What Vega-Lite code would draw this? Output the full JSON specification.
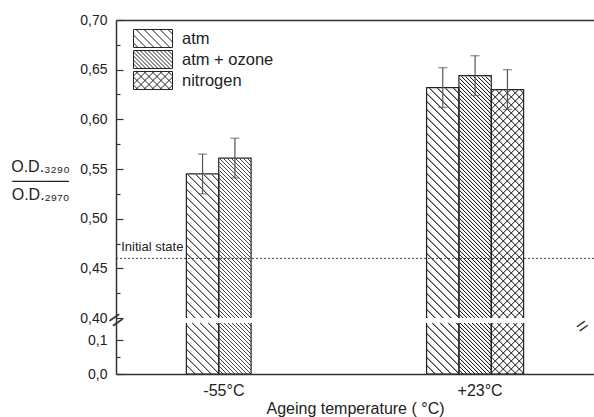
{
"$schema": "https://vega.github.io/schema/vega-lite/v6.json",
"width": 478, "height": 354,
"autosize": {"type": "none"},
"padding": {"left": 116, "top": 20, "right": 0, "bottom": 43},
"config": {"font": "Liberation Sans", "view": {"stroke": null}},
"params": [{"name": "hs", "value": [
{"offset":0,"color":"#111"},{"offset":0.003,"color":"#0000"},{"offset":0.01,"color":"#0000"},
{"offset":0.01,"color":"#111"},{"offset":0.013,"color":"#0000"},{"offset":0.02,"color":"#0000"},
{"offset":0.02,"color":"#111"},{"offset":0.023,"color":"#0000"},{"offset":0.03,"color":"#0000"},
{"offset":0.03,"color":"#111"},{"offset":0.033,"color":"#0000"},{"offset":0.04,"color":"#0000"},
{"offset":0.04,"color":"#111"},{"offset":0.043,"color":"#0000"},{"offset":0.05,"color":"#0000"},
{"offset":0.05,"color":"#111"},{"offset":0.053,"color":"#0000"},{"offset":0.06,"color":"#0000"},
{"offset":0.06,"color":"#111"},{"offset":0.063,"color":"#0000"},{"offset":0.07,"color":"#0000"},
{"offset":0.07,"color":"#111"},{"offset":0.073,"color":"#0000"},{"offset":0.08,"color":"#0000"},
{"offset":0.08,"color":"#111"},{"offset":0.083,"color":"#0000"},{"offset":0.09,"color":"#0000"},
{"offset":0.09,"color":"#111"},{"offset":0.093,"color":"#0000"},{"offset":0.1,"color":"#0000"},
{"offset":0.1,"color":"#111"},{"offset":0.103,"color":"#0000"},{"offset":0.11,"color":"#0000"},
{"offset":0.11,"color":"#111"},{"offset":0.113,"color":"#0000"},{"offset":0.12,"color":"#0000"},
{"offset":0.12,"color":"#111"},{"offset":0.123,"color":"#0000"},{"offset":0.13,"color":"#0000"},
{"offset":0.13,"color":"#111"},{"offset":0.133,"color":"#0000"},{"offset":0.14,"color":"#0000"},
{"offset":0.14,"color":"#111"},{"offset":0.143,"color":"#0000"},{"offset":0.15,"color":"#0000"},
{"offset":0.15,"color":"#111"},{"offset":0.153,"color":"#0000"},{"offset":0.16,"color":"#0000"},
{"offset":0.16,"color":"#111"},{"offset":0.163,"color":"#0000"},{"offset":0.17,"color":"#0000"},
{"offset":0.17,"color":"#111"},{"offset":0.173,"color":"#0000"},{"offset":0.18,"color":"#0000"},
{"offset":0.18,"color":"#111"},{"offset":0.183,"color":"#0000"},{"offset":0.19,"color":"#0000"},
{"offset":0.19,"color":"#111"},{"offset":0.193,"color":"#0000"},{"offset":0.2,"color":"#0000"},
{"offset":0.2,"color":"#111"},{"offset":0.203,"color":"#0000"},{"offset":0.21,"color":"#0000"},
{"offset":0.21,"color":"#111"},{"offset":0.213,"color":"#0000"},{"offset":0.22,"color":"#0000"},
{"offset":0.22,"color":"#111"},{"offset":0.223,"color":"#0000"},{"offset":0.23,"color":"#0000"},
{"offset":0.23,"color":"#111"},{"offset":0.233,"color":"#0000"},{"offset":0.24,"color":"#0000"},
{"offset":0.24,"color":"#111"},{"offset":0.243,"color":"#0000"},{"offset":0.25,"color":"#0000"},
{"offset":0.25,"color":"#111"},{"offset":0.253,"color":"#0000"},{"offset":0.26,"color":"#0000"},
{"offset":0.26,"color":"#111"},{"offset":0.263,"color":"#0000"},{"offset":0.27,"color":"#0000"},
{"offset":0.27,"color":"#111"},{"offset":0.273,"color":"#0000"},{"offset":0.28,"color":"#0000"},
{"offset":0.28,"color":"#111"},{"offset":0.283,"color":"#0000"},{"offset":0.29,"color":"#0000"},
{"offset":0.29,"color":"#111"},{"offset":0.293,"color":"#0000"},{"offset":0.3,"color":"#0000"},
{"offset":0.3,"color":"#111"},{"offset":0.303,"color":"#0000"},{"offset":0.31,"color":"#0000"},
{"offset":0.31,"color":"#111"},{"offset":0.313,"color":"#0000"},{"offset":0.32,"color":"#0000"},
{"offset":0.32,"color":"#111"},{"offset":0.323,"color":"#0000"},{"offset":0.33,"color":"#0000"},
{"offset":0.33,"color":"#111"},{"offset":0.333,"color":"#0000"},{"offset":0.34,"color":"#0000"},
{"offset":0.34,"color":"#111"},{"offset":0.343,"color":"#0000"},{"offset":0.35,"color":"#0000"},
{"offset":0.35,"color":"#111"},{"offset":0.353,"color":"#0000"},{"offset":0.36,"color":"#0000"},
{"offset":0.36,"color":"#111"},{"offset":0.363,"color":"#0000"},{"offset":0.37,"color":"#0000"},
{"offset":0.37,"color":"#111"},{"offset":0.373,"color":"#0000"},{"offset":0.38,"color":"#0000"},
{"offset":0.38,"color":"#111"},{"offset":0.383,"color":"#0000"},{"offset":0.39,"color":"#0000"},
{"offset":0.39,"color":"#111"},{"offset":0.393,"color":"#0000"},{"offset":0.4,"color":"#0000"},
{"offset":0.4,"color":"#111"},{"offset":0.403,"color":"#0000"},{"offset":0.41,"color":"#0000"},
{"offset":0.41,"color":"#111"},{"offset":0.413,"color":"#0000"},{"offset":0.42,"color":"#0000"},
{"offset":0.42,"color":"#111"},{"offset":0.423,"color":"#0000"},{"offset":0.43,"color":"#0000"},
{"offset":0.43,"color":"#111"},{"offset":0.433,"color":"#0000"},{"offset":0.44,"color":"#0000"},
{"offset":0.44,"color":"#111"},{"offset":0.443,"color":"#0000"},{"offset":0.45,"color":"#0000"},
{"offset":0.45,"color":"#111"},{"offset":0.453,"color":"#0000"},{"offset":0.46,"color":"#0000"},
{"offset":0.46,"color":"#111"},{"offset":0.463,"color":"#0000"},{"offset":0.47,"color":"#0000"},
{"offset":0.47,"color":"#111"},{"offset":0.473,"color":"#0000"},{"offset":0.48,"color":"#0000"},
{"offset":0.48,"color":"#111"},{"offset":0.483,"color":"#0000"},{"offset":0.49,"color":"#0000"},
{"offset":0.49,"color":"#111"},{"offset":0.493,"color":"#0000"},{"offset":0.5,"color":"#0000"},
{"offset":0.5,"color":"#111"},{"offset":0.503,"color":"#0000"},{"offset":0.51,"color":"#0000"},
{"offset":0.51,"color":"#111"},{"offset":0.513,"color":"#0000"},{"offset":0.52,"color":"#0000"},
{"offset":0.52,"color":"#111"},{"offset":0.523,"color":"#0000"},{"offset":0.53,"color":"#0000"},
{"offset":0.53,"color":"#111"},{"offset":0.533,"color":"#0000"},{"offset":0.54,"color":"#0000"},
{"offset":0.54,"color":"#111"},{"offset":0.543,"color":"#0000"},{"offset":0.55,"color":"#0000"},
{"offset":0.55,"color":"#111"},{"offset":0.553,"color":"#0000"},{"offset":0.56,"color":"#0000"},
{"offset":0.56,"color":"#111"},{"offset":0.563,"color":"#0000"},{"offset":0.57,"color":"#0000"},
{"offset":0.57,"color":"#111"},{"offset":0.573,"color":"#0000"},{"offset":0.58,"color":"#0000"},
{"offset":0.58,"color":"#111"},{"offset":0.583,"color":"#0000"},{"offset":0.59,"color":"#0000"},
{"offset":0.59,"color":"#111"},{"offset":0.593,"color":"#0000"},{"offset":0.6,"color":"#0000"},
{"offset":0.6,"color":"#111"},{"offset":0.603,"color":"#0000"},{"offset":0.61,"color":"#0000"},
{"offset":0.61,"color":"#111"},{"offset":0.613,"color":"#0000"},{"offset":0.62,"color":"#0000"},
{"offset":0.62,"color":"#111"},{"offset":0.623,"color":"#0000"},{"offset":0.63,"color":"#0000"},
{"offset":0.63,"color":"#111"},{"offset":0.633,"color":"#0000"},{"offset":0.64,"color":"#0000"},
{"offset":0.64,"color":"#111"},{"offset":0.643,"color":"#0000"},{"offset":0.65,"color":"#0000"},
{"offset":0.65,"color":"#111"},{"offset":0.653,"color":"#0000"},{"offset":0.66,"color":"#0000"},
{"offset":0.66,"color":"#111"},{"offset":0.663,"color":"#0000"},{"offset":0.67,"color":"#0000"},
{"offset":0.67,"color":"#111"},{"offset":0.673,"color":"#0000"},{"offset":0.68,"color":"#0000"},
{"offset":0.68,"color":"#111"},{"offset":0.683,"color":"#0000"},{"offset":0.69,"color":"#0000"},
{"offset":0.69,"color":"#111"},{"offset":0.693,"color":"#0000"},{"offset":0.7,"color":"#0000"},
{"offset":0.7,"color":"#111"},{"offset":0.703,"color":"#0000"},{"offset":0.71,"color":"#0000"},
{"offset":0.71,"color":"#111"},{"offset":0.713,"color":"#0000"},{"offset":0.72,"color":"#0000"},
{"offset":0.72,"color":"#111"},{"offset":0.723,"color":"#0000"},{"offset":0.73,"color":"#0000"},
{"offset":0.73,"color":"#111"},{"offset":0.733,"color":"#0000"},{"offset":0.74,"color":"#0000"},
{"offset":0.74,"color":"#111"},{"offset":0.743,"color":"#0000"},{"offset":0.75,"color":"#0000"},
{"offset":0.75,"color":"#111"},{"offset":0.753,"color":"#0000"},{"offset":0.76,"color":"#0000"},
{"offset":0.76,"color":"#111"},{"offset":0.763,"color":"#0000"},{"offset":0.77,"color":"#0000"},
{"offset":0.77,"color":"#111"},{"offset":0.773,"color":"#0000"},{"offset":0.78,"color":"#0000"},
{"offset":0.78,"color":"#111"},{"offset":0.783,"color":"#0000"},{"offset":0.79,"color":"#0000"},
{"offset":0.79,"color":"#111"},{"offset":0.793,"color":"#0000"},{"offset":0.8,"color":"#0000"},
{"offset":0.8,"color":"#111"},{"offset":0.803,"color":"#0000"},{"offset":0.81,"color":"#0000"},
{"offset":0.81,"color":"#111"},{"offset":0.813,"color":"#0000"},{"offset":0.82,"color":"#0000"},
{"offset":0.82,"color":"#111"},{"offset":0.823,"color":"#0000"},{"offset":0.83,"color":"#0000"},
{"offset":0.83,"color":"#111"},{"offset":0.833,"color":"#0000"},{"offset":0.84,"color":"#0000"},
{"offset":0.84,"color":"#111"},{"offset":0.843,"color":"#0000"},{"offset":0.85,"color":"#0000"},
{"offset":0.85,"color":"#111"},{"offset":0.853,"color":"#0000"},{"offset":0.86,"color":"#0000"},
{"offset":0.86,"color":"#111"},{"offset":0.863,"color":"#0000"},{"offset":0.87,"color":"#0000"},
{"offset":0.87,"color":"#111"},{"offset":0.873,"color":"#0000"},{"offset":0.88,"color":"#0000"},
{"offset":0.88,"color":"#111"},{"offset":0.883,"color":"#0000"},{"offset":0.89,"color":"#0000"},
{"offset":0.89,"color":"#111"},{"offset":0.893,"color":"#0000"},{"offset":0.9,"color":"#0000"},
{"offset":0.9,"color":"#111"},{"offset":0.903,"color":"#0000"},{"offset":0.91,"color":"#0000"},
{"offset":0.91,"color":"#111"},{"offset":0.913,"color":"#0000"},{"offset":0.92,"color":"#0000"},
{"offset":0.92,"color":"#111"},{"offset":0.923,"color":"#0000"},{"offset":0.93,"color":"#0000"},
{"offset":0.93,"color":"#111"},{"offset":0.933,"color":"#0000"},{"offset":0.94,"color":"#0000"},
{"offset":0.94,"color":"#111"},{"offset":0.943,"color":"#0000"},{"offset":0.95,"color":"#0000"},
{"offset":0.95,"color":"#111"},{"offset":0.953,"color":"#0000"},{"offset":0.96,"color":"#0000"},
{"offset":0.96,"color":"#111"},{"offset":0.963,"color":"#0000"},{"offset":0.97,"color":"#0000"},
{"offset":0.97,"color":"#111"},{"offset":0.973,"color":"#0000"},{"offset":0.98,"color":"#0000"},
{"offset":0.98,"color":"#111"},{"offset":0.983,"color":"#0000"},{"offset":0.99,"color":"#0000"},
{"offset":0.99,"color":"#111"},{"offset":0.993,"color":"#0000"},{"offset":1,"color":"#0000"}
]}],
"data": {"values": [
{"temp": "-55°C", "series": "atm", "value": 0.545, "lo": 0.525, "hi": 0.565},
{"temp": "-55°C", "series": "atm + ozone", "value": 0.561, "lo": 0.541, "hi": 0.581},
{"temp": "+23°C", "series": "atm", "value": 0.632, "lo": 0.612, "hi": 0.652},
{"temp": "+23°C", "series": "atm + ozone", "value": 0.644, "lo": 0.624, "hi": 0.664},
{"temp": "+23°C", "series": "nitrogen", "value": 0.63, "lo": 0.61, "hi": 0.65}
]},
"resolve": {"axis": {"x": "independent", "y": "independent"}},
"layer": [
{
"mark": {"type": "bar", "strokeWidth": 0, "fill": {"expr": "{gradient:'linear',x1:0,y1:1,x2:datum.series=='atm + ozone'?0.10241:0.20481,y2:datum.series=='atm + ozone'?-0.1206:-1.24121,stops:hs}"}},
"encoding": {
"x": {"field": "temp", "type": "nominal", "scale": {"domain": ["-55°C", "+23°C"], "paddingInner": 0.596, "paddingOuter": 0.293},
 "axis": {"orient": "bottom", "title": "Ageing temperature ( °C)", "titleFontSize": 16, "titleFontWeight": "normal", "titleColor": "#222", "titlePadding": 2, "labelFontSize": 16, "labelColor": "#222", "labelPadding": 8, "labelAngle": 0, "ticks": false, "domainColor": "#333", "domainWidth": 1.5, "labelOffset": {"condition": {"test": "datum.value == '-55°C'", "value": -11}, "value": 5}, "zindex": 1}},
"xOffset": {"field": "series", "type": "nominal", "scale": {"domain": ["atm", "atm + ozone", "nitrogen"], "paddingInner": 0, "paddingOuter": 0}},
"y": {"datum": 0.7, "type": "quantitative", "scale": {"domain": [0, 0.15, 0.4, 0.7], "range": [354, 303, 298, 0], "nice": false, "zero": false},
 "axis": {"orient": "left", "values": [0, 0.1, 0.4, 0.45, 0.5, 0.55, 0.6, 0.65, 0.7], "labelExpr": "replace(format(datum.value, datum.value < 0.2 ? '.1f' : '.2f'), '.', ',')",
  "title": ["O.D.₃₂₉₀", "─────", "O.D.₂₉₇₀"], "titleAngle": 0, "titleAlign": "center", "titleBaseline": "alphabetic", "titleX": -76, "titleY": 151, "titleLineHeight": 14, "titleFontSize": 16, "titleFontWeight": "normal", "titleColor": "#222",
  "labelFontSize": 14, "labelColor": "#222", "tickSize": -7, "labelPadding": 16, "tickColor": "#333", "tickWidth": 1.2, "domainColor": "#333", "domainWidth": 1.5, "grid": false, "zindex": 1}},
"y2": {"datum": 0}
}
},
{
"transform": [{"filter": "datum.series == 'nitrogen'"}],
"mark": {"type": "bar", "strokeWidth": 0, "fill": {"expr": "{gradient:'linear',x1:0,y1:0,x2:0.20481,y2:2.24121,stops:hs}"}},
"encoding": {
"x": {"field": "temp", "type": "nominal", "scale": {"domain": ["-55°C", "+23°C"], "paddingInner": 0.596, "paddingOuter": 0.293},
 "axis": {"orient": "top", "labels": false, "ticks": false, "title": null, "domainColor": "#333", "domainWidth": 1.5, "grid": false, "zindex": 1}},
"xOffset": {"field": "series", "type": "nominal", "scale": {"domain": ["atm", "atm + ozone", "nitrogen"], "paddingInner": 0, "paddingOuter": 0}},
"y": {"datum": 0.7, "type": "quantitative", "scale": {"domain": [0, 0.15, 0.4, 0.7], "range": [354, 303, 298, 0], "nice": false, "zero": false}, "axis": null},
"y2": {"datum": 0}
}
},
{
"mark": {"type": "bar", "fill": "white", "stroke": "white", "strokeWidth": 1.5},
"encoding": {
"x": {"field": "temp", "type": "nominal", "scale": {"domain": ["-55°C", "+23°C"], "paddingInner": 0.596, "paddingOuter": 0.293}, "axis": null},
"xOffset": {"field": "series", "type": "nominal", "scale": {"domain": ["atm", "atm + ozone", "nitrogen"], "paddingInner": 0, "paddingOuter": 0}},
"y": {"field": "value", "type": "quantitative", "scale": {"domain": [0, 0.15, 0.4, 0.7], "range": [354, 303, 298, 0], "nice": false, "zero": false},
 "axis": {"orient": "left", "values": [0.05, 0.425, 0.475, 0.525, 0.575, 0.625, 0.675], "labels": false, "domain": false, "title": null, "tickSize": -4, "tickColor": "#333", "tickWidth": 1.2, "grid": false, "zindex": 1}},
"y2": {"datum": 0.7}
}
},
{
"mark": {"type": "bar", "fill": "transparent", "stroke": "#222", "strokeWidth": 1.2},
"encoding": {
"x": {"field": "temp", "type": "nominal", "scale": {"domain": ["-55°C", "+23°C"], "paddingInner": 0.596, "paddingOuter": 0.293}, "axis": null},
"xOffset": {"field": "series", "type": "nominal", "scale": {"domain": ["atm", "atm + ozone", "nitrogen"], "paddingInner": 0, "paddingOuter": 0}},
"y": {"field": "value", "type": "quantitative", "scale": {"domain": [0, 0.15, 0.4, 0.7], "range": [354, 303, 298, 0], "nice": false, "zero": false},
 "axis": {"orient": "left", "values": [0.285], "labelExpr": "'='", "ticks": false, "domain": false, "title": null, "labelAlign": "center", "labelBaseline": "middle", "labelAngle": -35, "labelPadding": 0, "labelFontSize": 24, "labelColor": "#333", "grid": false, "zindex": 1}},
"y2": {"datum": 0}
}
},
{
"mark": {"type": "point", "opacity": 0, "color": "#222", "strokeWidth": 1},
"encoding": {
"x": {"field": "temp", "type": "nominal", "scale": {"domain": ["-55°C", "+23°C"], "paddingInner": 0.596, "paddingOuter": 0.293}, "axis": null},
"xOffset": {"field": "series", "type": "nominal", "scale": {"domain": ["atm", "atm + ozone", "nitrogen"], "paddingInner": 0, "paddingOuter": 0}},
"y": {"field": "value", "type": "quantitative", "scale": {"domain": [0, 0.15, 0.4, 0.7], "range": [354, 303, 298, 0], "nice": false, "zero": false}, "axis": null},
"shape": {"field": "series", "type": "nominal",
 "scale": {"domain": ["atm", "atm + ozone", "nitrogen"], "range": [
  "M-1,-0.46H1V0.46H-1ZM-1,0.23L-0.77,0.46M-1,-0.18L-0.36,0.46M-0.87,-0.46L0.05,0.46M-0.46,-0.46L0.46,0.46M-0.05,-0.46L0.87,0.46M0.36,-0.46L1,0.18M0.77,-0.46L1,-0.23",
  "M-1,-0.46H1V0.46H-1ZM-1,0.23L-0.77,0.46M-1,0.025L-0.565,0.46M-1,-0.18L-0.36,0.46M-1,-0.385L-0.155,0.46M-0.87,-0.46L0.05,0.46M-0.665,-0.46L0.255,0.46M-0.46,-0.46L0.46,0.46M-0.255,-0.46L0.665,0.46M-0.05,-0.46L0.87,0.46M0.155,-0.46L1,0.385M0.36,-0.46L1,0.18M0.565,-0.46L1,-0.025M0.77,-0.46L1,-0.23",
  "M-1,-0.46H1V0.46H-1ZM-1,0.23L-0.77,0.46M-1,-0.18L-0.36,0.46M-0.87,-0.46L0.05,0.46M-0.46,-0.46L0.46,0.46M-0.05,-0.46L0.87,0.46M0.36,-0.46L1,0.18M0.77,-0.46L1,-0.23M1,0.23L0.77,0.46M1,-0.18L0.36,0.46M0.87,-0.46L-0.05,0.46M0.46,-0.46L-0.46,0.46M0.05,-0.46L-0.87,0.46M-0.36,-0.46L-1,0.18M-0.77,-0.46L-1,-0.23"
 ]},
 "legend": {"orient": "none", "legendX": 17, "legendY": 8, "title": null, "padding": 0, "rowPadding": 0, "clipHeight": 21, "symbolSize": 1521, "symbolOpacity": 1, "symbolStrokeColor": "#222", "symbolFillColor": "transparent", "symbolStrokeWidth": 1, "labelFontSize": 16.5, "labelColor": "#222", "labelOffset": 9}}
}
},
{
"data": {"values": [{}]},
"mark": {"type": "rect", "fill": "white"},
"encoding": {
"y": {"datum": 0.4, "type": "quantitative", "scale": {"domain": [0, 0.15, 0.4, 0.7], "range": [354, 303, 298, 0], "nice": false, "zero": false},
 "axis": {"orient": "right", "values": [0.141], "labelExpr": "'='", "ticks": false, "domain": false, "title": null, "labelAlign": "center", "labelBaseline": "middle", "labelAngle": -35, "labelPadding": -12, "labelFontSize": 20, "labelColor": "#333", "grid": false, "zindex": 1}},
"y2": {"datum": 0.15}
}
},
{
"data": {"values": [{}]},
"mark": {"type": "rule", "strokeDash": [2, 2], "color": "#444", "strokeWidth": 1},
"encoding": {
"y": {"datum": 0.46, "type": "quantitative", "scale": {"domain": [0, 0.15, 0.4, 0.7], "range": [354, 303, 298, 0], "nice": false, "zero": false}, "axis": null}
}
},
{
"data": {"values": [{}]},
"mark": {"type": "text", "text": "Initial state", "align": "right", "baseline": "alphabetic", "dx": -3, "dy": -7, "fontSize": 13, "color": "#222"},
"encoding": {
"x": {"datum": "-55°C", "type": "nominal", "bandPosition": 0, "scale": {"domain": ["-55°C", "+23°C"], "paddingInner": 0.596, "paddingOuter": 0.293}, "axis": null},
"y": {"datum": 0.46, "type": "quantitative", "scale": {"domain": [0, 0.15, 0.4, 0.7], "range": [354, 303, 298, 0], "nice": false, "zero": false}, "axis": null}
}
},
{
"mark": {"type": "rule", "color": "#555", "strokeWidth": 1.2},
"encoding": {
"x": {"field": "temp", "type": "nominal", "scale": {"domain": ["-55°C", "+23°C"], "paddingInner": 0.596, "paddingOuter": 0.293}, "axis": null},
"xOffset": {"field": "series", "type": "nominal", "scale": {"domain": ["atm", "atm + ozone", "nitrogen"], "paddingInner": 0, "paddingOuter": 0}},
"y": {"field": "lo", "type": "quantitative", "scale": {"domain": [0, 0.15, 0.4, 0.7], "range": [354, 303, 298, 0], "nice": false, "zero": false}, "axis": null},
"y2": {"field": "hi"}
}
},
{
"mark": {"type": "tick", "color": "#555", "thickness": 1.2},
"encoding": {
"x": {"field": "temp", "type": "nominal", "scale": {"domain": ["-55°C", "+23°C"], "paddingInner": 0.596, "paddingOuter": 0.293}, "axis": null},
"xOffset": {"field": "series", "type": "nominal", "scale": {"domain": ["atm", "atm + ozone", "nitrogen"], "paddingInner": 0, "paddingOuter": 0}},
"y": {"field": "hi", "type": "quantitative", "scale": {"domain": [0, 0.15, 0.4, 0.7], "range": [354, 303, 298, 0], "nice": false, "zero": false}, "axis": null},
"size": {"value": 9}
}
},
{
"mark": {"type": "tick", "color": "#555", "thickness": 1.2},
"encoding": {
"x": {"field": "temp", "type": "nominal", "scale": {"domain": ["-55°C", "+23°C"], "paddingInner": 0.596, "paddingOuter": 0.293}, "axis": null},
"xOffset": {"field": "series", "type": "nominal", "scale": {"domain": ["atm", "atm + ozone", "nitrogen"], "paddingInner": 0, "paddingOuter": 0}},
"y": {"field": "lo", "type": "quantitative", "scale": {"domain": [0, 0.15, 0.4, 0.7], "range": [354, 303, 298, 0], "nice": false, "zero": false}, "axis": null},
"size": {"value": 9}
}
}
]
}
